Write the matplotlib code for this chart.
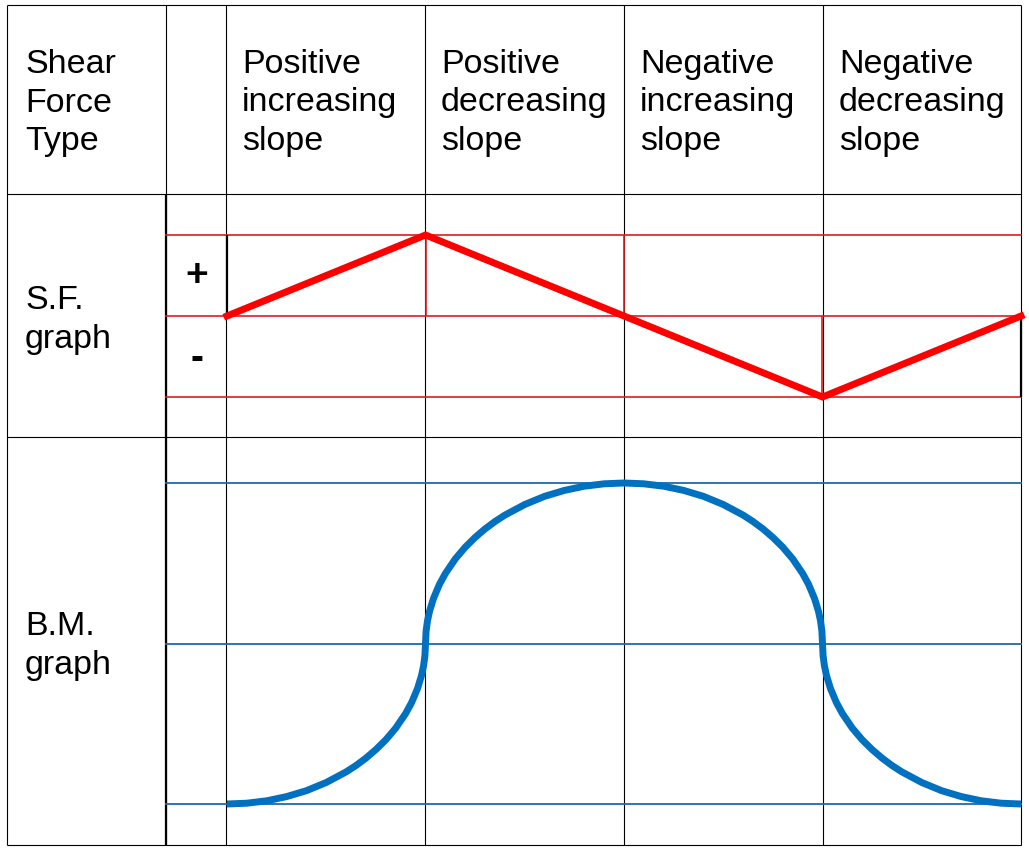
import matplotlib
matplotlib.use("Agg")
import matplotlib.pyplot as plt

plt.rcParams['font.family'] = ['Liberation Sans', 'DejaVu Sans']

# header texts
row_title = "Shear\nForce\nType"
col_titles = ["Positive\nincreasing\nslope", "Positive\ndecreasing\nslope",
              "Negative\nincreasing\nslope", "Negative\ndecreasing\nslope"]
row_labels = ["S.F.\ngraph", "B.M.\ngraph"]

# shear force graph: value at each column boundary
sf_x = [0, 1, 2, 3, 4]
sf_y = [0, 1, 0, -1, 0]

# bending moment graph
bm_x = [0, 0.1, 0.2, 0.3, 0.4, 0.5, 0.6, 0.65, 0.7, 0.75, 0.8, 0.85, 0.9, 0.93, 0.96,
        0.98, 0.99, 0.997, 1.0, 1.003, 1.01, 1.02, 1.04, 1.07, 1.10, 1.15, 1.20, 1.25,
        1.30, 1.35, 1.40, 1.50, 1.60, 1.70, 1.80, 1.90, 2.0,
        2.10, 2.20, 2.30, 2.40, 2.50, 2.60, 2.65, 2.70, 2.75, 2.80, 2.85, 2.90, 2.93,
        2.96, 2.98, 2.99, 2.997, 3.0, 3.003, 3.01, 3.02, 3.04, 3.07, 3.10, 3.15, 3.20,
        3.25, 3.30, 3.35, 3.40, 3.50, 3.60, 3.70, 3.80, 3.90, 4.0]
bm_y = [0, 0.005, 0.020, 0.046, 0.083, 0.134, 0.200, 0.240, 0.286, 0.339, 0.400, 0.473,
        0.564, 0.632, 0.720, 0.801, 0.859, 0.923, 1.0, 1.077, 1.141, 1.199, 1.280, 1.368,
        1.436, 1.527, 1.600, 1.661, 1.714, 1.760, 1.800, 1.866, 1.917, 1.954, 1.980,
        1.995, 2.0,
        1.995, 1.980, 1.954, 1.917, 1.866, 1.800, 1.760, 1.714, 1.661, 1.600, 1.527,
        1.436, 1.368, 1.280, 1.199, 1.141, 1.077, 1.0, 0.923, 0.859, 0.801, 0.720,
        0.632, 0.564, 0.473, 0.400, 0.339, 0.286, 0.240, 0.200, 0.134, 0.083, 0.046,
        0.020, 0.005, 0]

W, H = 1029, 854
fig = plt.figure(figsize=(W / 100, H / 100), dpi=100)
fig.patch.set_facecolor("white")

# --- table grid in pixel coords
ax = fig.add_axes([0, 0, 1, 1])
ax.set_xlim(0, W)
ax.set_ylim(H, 0)
ax.axis("off")

xs = [7, 166, 226, 425, 624, 823, 1021]
ys = [6, 195, 438, 846]
thin = 0.8
ax.hlines(ys, xs[0], xs[-1], color="black", lw=thin)
ax.vlines(xs, ys[0], ys[-1], color="black", lw=thin)
ax.vlines(xs[1], ys[1], ys[-1], color="black", lw=1.6)

fs = 24.5
ls = 1.3
ax.text(25, 103, row_title, fontsize=fs, ha="left", va="center", linespacing=ls)
for i, t in enumerate(col_titles):
    ax.text(xs[i + 2] + 16, 103, t, fontsize=fs, ha="left", va="center", linespacing=ls)
ax.text(25, 320, row_labels[0], fontsize=fs, ha="left", va="center", linespacing=ls)
ax.text(25, 646, row_labels[1], fontsize=fs, ha="left", va="center", linespacing=ls)
ax.text(197, 276, "+", fontsize=28, ha="center", va="center", fontweight="bold")
ax.text(197, 359, "-", fontsize=28, ha="center", va="center", fontweight="bold")

col_w = (1021 - 227) / 4
x0 = -(227 - 166) / col_w


def px_axes(x_left, x_right, y_top, y_bot):
    return fig.add_axes([x_left / W, 1 - y_bot / H, (x_right - x_left) / W, (y_bot - y_top) / H])


# --- S.F. graph
red_thin = "#dc1e1e"
sf = px_axes(166, 1021, 236, 398)
sf.set_xlim(x0, 4)
sf.set_ylim(-1, 1)
sf.axis("off")
sf.patch.set_alpha(0)
for lvl in [1, 0, -1]:
    sf.axhline(lvl, color=red_thin, lw=1.2, clip_on=False)
sf.vlines([1, 2], 0, 1, color=red_thin, lw=1.2)
sf.vlines([3], -1, 0, color=red_thin, lw=1.2)
sf.vlines([0], 0, 1, color="black", lw=1.6)
sf.vlines([4], -1, 0, color="black", lw=1.6, clip_on=False)
sf.plot(sf_x, sf_y, color="#ff0000", lw=5, solid_joinstyle="miter", clip_on=False)

# --- B.M. graph
bm = px_axes(166, 1021, 484, 805)
bm.set_xlim(x0, 4)
bm.set_ylim(0, 2)
bm.axis("off")
bm.patch.set_alpha(0)
for lvl in [0, 1, 2]:
    bm.axhline(lvl, color="#1f6aa8", lw=1.3, clip_on=False)
bm.plot(bm_x, bm_y, color="#0070c0", lw=5, solid_capstyle="butt",
        solid_joinstyle="round", clip_on=False)

fig.savefig("out.png", dpi=100, facecolor="white")
